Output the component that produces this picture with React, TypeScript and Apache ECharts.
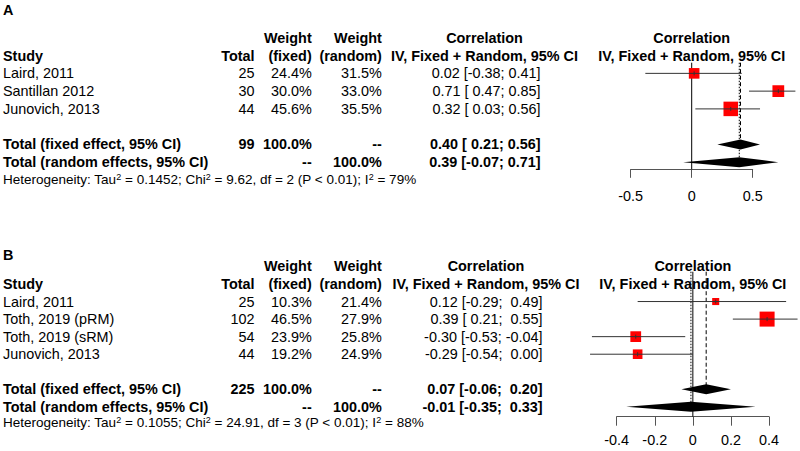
import React, { useEffect, useRef } from "react";
import * as echarts from "echarts";

// ---------- Panel A data ----------
const studyA = ["Laird, 2011", "Santillan 2012", "Junovich, 2013"];
const totalA = [25, 30, 44];
const weightFixedA = [24.4, 30.0, 45.6];
const weightRandomA = [31.5, 33.0, 35.5];
const corA = [0.02, 0.71, 0.32];
const lowerA = [-0.38, 0.47, 0.03];
const upperA = [0.41, 0.85, 0.56];
const fixedA = [0.4, 0.21, 0.56];
const randomA = [0.39, -0.07, 0.71];
const totalSumA = 99;
const hetA = ["0.1452", "9.62", "2", "< 0.01", "79"];
const ticksA = [-0.5, 0, 0.5];

// ---------- Panel B data ----------
const studyB = ["Laird, 2011", "Toth, 2019 (pRM)", "Toth, 2019 (sRM)", "Junovich, 2013"];
const totalB = [25, 102, 54, 44];
const weightFixedB = [10.3, 46.5, 23.9, 19.2];
const weightRandomB = [21.4, 27.9, 25.8, 24.9];
const corB = [0.12, 0.39, -0.3, -0.29];
const lowerB = [-0.29, 0.21, -0.53, -0.54];
const upperB = [0.49, 0.55, -0.04, 0.0];
const fixedB = [0.07, -0.06, 0.2];
const randomB = [-0.01, -0.35, 0.33];
const totalSumB = 225;
const hetB = ["0.1055", "24.91", "3", "< 0.01", "88"];
const ticksB = [-0.4, -0.2, 0, 0.2, 0.4];

const FONT = '"Liberation Sans", Arial, Helvetica, sans-serif';
const FS = 14.4;

const panels = [
  {
    label: "A", study: studyA, total: totalA, wf: weightFixedA, wr: weightRandomA,
    cor: corA, lo: lowerA, hi: upperA, fixed: fixedA, random: randomA, sum: totalSumA,
    het: hetA, ticks: ticksA,
    L: { left: 630.7, right: 47.3, top: 62.7, bottom: 451 - 169.3, yMin: -0.6, yMax: 5.4,
      hetRow: 6, corrRight: 540.5, corrCenter: 484.5, labelMargin: 20, tickLen: 8.5, maxSq: 14.5, labelY: 9.5 },
  },
  {
    label: "B", study: studyB, total: totalB, wf: weightFixedB, wr: weightRandomB,
    cor: corB, lo: lowerB, hi: upperB, fixed: fixedB, random: randomB, sum: totalSumB,
    het: hetB, ticks: ticksB,
    L: { left: 616.7, right: 31, top: 271.7, bottom: 451 - 416.7, yMin: -1.7, yMax: 6.56,
      hetRow: 6.88, corrRight: 542.5, corrCenter: 486, labelMargin: 16, tickLen: 9, maxSq: 15, labelY: 255 },
  },
];

const X_STUDY = 3;
const X_TOTAL = 254.5;
const X_WF = 311.7;
const X_WR = 381.8;
const NBSP = "\u00A0";

const f2 = (v: number) => v.toFixed(2);

function buildOption() {
  const grid: any[] = [];
  const xAxis: any[] = [];
  const yAxis: any[] = [];
  const series: any[] = [];
  const graphic: any[] = [];

  panels.forEach((p, pi) => {
    const L = p.L;
    const n = p.study.length;
    grid.push({ left: L.left, right: L.right, top: L.top, bottom: L.bottom, containLabel: false });
    const interval = +(p.ticks[1] - p.ticks[0]).toFixed(10);
    xAxis.push({
      type: "value", gridIndex: pi, position: "bottom",
      min: p.ticks[0], max: p.ticks[p.ticks.length - 1], interval,
      splitLine: { show: false },
      axisLine: { show: true, onZero: false, lineStyle: { color: "#555", width: 1 } },
      axisTick: { show: true, inside: false, length: L.tickLen, lineStyle: { color: "#555", width: 1 } },
      axisLabel: { color: "#000", fontSize: FS, fontFamily: FONT, margin: L.labelMargin },
    });
    yAxis.push({ type: "value", gridIndex: pi, inverse: true, min: L.yMin, max: L.yMax, show: false });

    const fixedRow = n + 1;
    const randomRow = n + 2;

    // reference lines: [x, rowTop, rowBottom, kind]
    const refData = [
      [0, L.yMin, L.yMax, 0],
      [p.fixed[0], L.yMin, fixedRow, 1],
      [p.random[0], L.yMin, randomRow, 2],
    ];
    series.push({
      type: "custom", xAxisIndex: pi, yAxisIndex: pi, clip: false, silent: true,
      dimensions: ["x", "top", "bottom", "kind"], encode: { x: 0, y: [1, 2] },
      data: refData,
      renderItem: (params: any, api: any) => {
        const x = api.value(0);
        const a = api.coord([x, api.value(1)]);
        const b = api.coord([x, api.value(2)]);
        const kind = api.value(3);
        const dash = kind === 0 ? null : kind === 1 ? [4, 2.5] : [1.5, 1.5];
        return {
          type: "line",
          shape: { x1: a[0], y1: a[1], x2: b[0], y2: b[1] },
          style: { stroke: "#000", lineWidth: 1, lineDash: dash },
        };
      },
    });

    // studies: [est, lo, hi, row, size]
    const wMax = Math.max(...p.wf);
    const studyData = p.cor.map((c, i) => [c, p.lo[i], p.hi[i], i, L.maxSq * Math.sqrt(p.wf[i] / wMax)]);
    series.push({
      type: "custom", xAxisIndex: pi, yAxisIndex: pi, clip: false, silent: true,
      dimensions: ["est", "lo", "hi", "row", "size"], encode: { x: [0, 1, 2], y: 3 },
      data: studyData,
      renderItem: (params: any, api: any) => {
        const row = api.value(3);
        const c = api.coord([api.value(0), row]);
        const l = api.coord([api.value(1), row]);
        const h = api.coord([api.value(2), row]);
        const s = api.value(4);
        return {
          type: "group",
          children: [
            { type: "rect", shape: { x: c[0] - s / 2, y: c[1] - s / 2, width: s, height: s }, style: { fill: "#f00" } },
            { type: "line", shape: { x1: l[0], y1: c[1], x2: h[0], y2: c[1] }, style: { stroke: "#333", lineWidth: 1 } },
            { type: "line", shape: { x1: c[0], y1: c[1] - 2, x2: c[0], y2: c[1] + 2 }, style: { stroke: "#333", lineWidth: 1 } },
          ],
        };
      },
    });

    // diamonds: [est, lo, hi, row]
    const diamondData = [
      [p.fixed[0], p.fixed[1], p.fixed[2], fixedRow],
      [p.random[0], p.random[1], p.random[2], randomRow],
    ];
    series.push({
      type: "custom", xAxisIndex: pi, yAxisIndex: pi, clip: false, silent: true,
      dimensions: ["est", "lo", "hi", "row"], encode: { x: [0, 1, 2], y: 3 },
      data: diamondData,
      renderItem: (params: any, api: any) => {
        const row = api.value(3);
        const c = api.coord([api.value(0), row]);
        const l = api.coord([api.value(1), row]);
        const h = api.coord([api.value(2), row]);
        const hh = 5;
        return {
          type: "polygon",
          shape: { points: [[l[0], c[1]], [c[0], c[1] - hh], [h[0], c[1]], [c[0], c[1] + hh]] },
          style: { fill: "#000" },
        };
      },
    });

    // table text
    const allLo = [...p.lo, p.fixed[1], p.random[1]].map(f2);
    const allHi = [...p.hi, p.fixed[2], p.random[2]].map(f2);
    const wl = Math.max(...allLo.map((s) => s.length));
    const wh = Math.max(...allHi.map((s) => s.length));
    const ci = (e: number, lo: number, hi: number) =>
      `${f2(e)} [${f2(lo).padStart(wl, NBSP)};${NBSP}${f2(hi).padStart(wh, NBSP)}]`;

    type Cell = { t: string; x: number | "plot"; a: string; b?: boolean; rich?: boolean };
    const rows: { row: number; cells: Cell[] }[] = [];
    rows.push({ row: -2, cells: [
      { t: "Weight", x: X_WF, a: "right", b: true },
      { t: "Weight", x: X_WR, a: "right", b: true },
      { t: "Correlation", x: L.corrCenter, a: "center", b: true },
      { t: "Correlation", x: "plot", a: "center", b: true },
    ] });
    rows.push({ row: -1, cells: [
      { t: "Study", x: X_STUDY, a: "left", b: true },
      { t: "Total", x: X_TOTAL, a: "right", b: true },
      { t: "(fixed)", x: X_WF, a: "right", b: true },
      { t: "(random)", x: X_WR, a: "right", b: true },
      { t: "IV, Fixed + Random, 95% CI", x: L.corrCenter, a: "center", b: true },
      { t: "IV, Fixed + Random, 95% CI", x: "plot", a: "center", b: true },
    ] });
    p.study.forEach((s, i) => {
      rows.push({ row: i, cells: [
        { t: s, x: X_STUDY, a: "left" },
        { t: String(p.total[i]), x: X_TOTAL, a: "right" },
        { t: p.wf[i].toFixed(1) + "%", x: X_WF, a: "right" },
        { t: p.wr[i].toFixed(1) + "%", x: X_WR, a: "right" },
        { t: ci(p.cor[i], p.lo[i], p.hi[i]), x: L.corrRight, a: "right" },
      ] });
    });
    rows.push({ row: fixedRow, cells: [
      { t: "Total (fixed effect, 95% CI)", x: X_STUDY, a: "left", b: true },
      { t: String(p.sum), x: X_TOTAL, a: "right", b: true },
      { t: "100.0%", x: X_WF, a: "right", b: true },
      { t: "--", x: X_WR, a: "right", b: true },
      { t: ci(p.fixed[0], p.fixed[1], p.fixed[2]), x: L.corrRight, a: "right", b: true },
    ] });
    rows.push({ row: randomRow, cells: [
      { t: "Total (random effects, 95% CI)", x: X_STUDY, a: "left", b: true },
      { t: "--", x: X_WF, a: "right", b: true },
      { t: "100.0%", x: X_WR, a: "right", b: true },
      { t: ci(p.random[0], p.random[1], p.random[2]), x: L.corrRight, a: "right", b: true },
    ] });
    const h = p.het;
    rows.push({ row: L.hetRow, cells: [
      { t: `Heterogeneity: Tau{sup|2} = ${h[0]}; Chi{sup|2} = ${h[1]}, df = ${h[2]} (P ${h[3]}); I{sup|2} = ${h[4]}%`, x: X_STUDY, a: "left", rich: true },
    ] });

    series.push({
      type: "custom", xAxisIndex: pi, yAxisIndex: pi, clip: false, silent: true,
      dimensions: ["x", "row"], encode: { x: 0, y: 1 },
      data: rows.map((r) => [0, r.row]),
      renderItem: (params: any, api: any) => {
        const r = rows[params.dataIndex];
        const pt = api.coord([0, r.row]);
        return {
          type: "group",
          children: r.cells.map((c) => ({
            type: "text",
            x: c.x === "plot" ? pt[0] : c.x,
            y: pt[1],
            style: c.rich
              ? {
                  text: c.t, fill: "#000", fontSize: 13.5, fontFamily: FONT, align: "left", verticalAlign: "middle",
                  rich: { sup: { fontSize: 9, fontFamily: FONT, fill: "#000", verticalAlign: "top" } },
                }
              : {
                  text: c.t, fill: "#000", fontSize: FS, fontFamily: FONT, fontWeight: c.b ? "bold" : "normal",
                  align: c.a, verticalAlign: "middle",
                },
          })),
        };
      },
    });

    graphic.push({
      type: "text", left: 3, top: L.labelY - 7,
      style: { text: p.label, fill: "#000", fontSize: 14.4, fontWeight: "bold", fontFamily: FONT },
    });
  });

  return {
    animation: false,
    backgroundColor: "#fff",
    grid, xAxis, yAxis, series, graphic,
  };
}

export default function App() {
  const ref = useRef<HTMLDivElement>(null);
  useEffect(() => {
    if (!ref.current) return;
    const chart = echarts.init(ref.current, undefined, { renderer: "svg" });
    chart.setOption(buildOption() as any);
    return () => chart.dispose();
  }, []);
  return <div ref={ref} style={{ position: "fixed", left: 0, top: 0, width: 800, height: 451 }} />;
}
